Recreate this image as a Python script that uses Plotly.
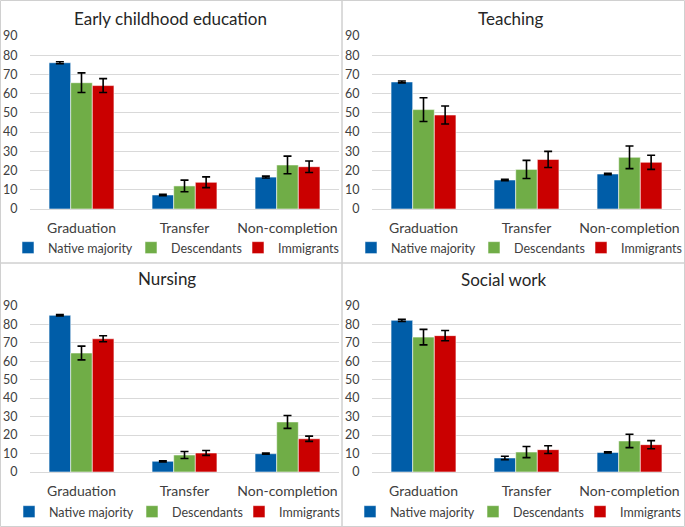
import plotly.graph_objects as go
from plotly.subplots import make_subplots

categories = ["Graduation", "Transfer", "Non-completion"]
groups = ["Native majority", "Descendants", "Immigrants"]
panel_titles = ["Early childhood education", "Teaching", "Nursing", "Social work"]
y_ticks = [0, 10, 20, 30, 40, 50, 60, 70, 80, 90]

ece_native = [76.1, 7.3, 16.6]
ece_native_err = [0.5, 0.4, 0.5]
ece_desc = [65.7, 12.0, 22.9]
ece_desc_err = [5.1, 3.0, 4.6]
ece_imm = [64.2, 13.9, 22.0]
ece_imm_err = [3.6, 2.8, 3.0]

teach_native = [66.1, 15.1, 18.2]
teach_native_err = [0.5, 0.4, 0.4]
teach_desc = [51.7, 20.6, 26.9]
teach_desc_err = [6.2, 4.7, 5.9]
teach_imm = [48.9, 25.8, 24.3]
teach_imm_err = [4.7, 4.2, 3.7]

nurs_native = [84.8, 5.8, 9.9]
nurs_native_err = [0.4, 0.3, 0.3]
nurs_desc = [64.4, 9.2, 27.1]
nurs_desc_err = [3.7, 1.9, 3.5]
nurs_imm = [72.1, 10.3, 18.0]
nurs_imm_err = [1.6, 1.3, 1.4]

sw_native = [82.1, 7.6, 10.6]
sw_native_err = [0.6, 0.9, 0.3]
sw_desc = [73.0, 10.8, 16.8]
sw_desc_err = [4.2, 3.0, 3.6]
sw_imm = [73.8, 12.1, 14.8]
sw_imm_err = [2.8, 2.1, 2.2]

colors = ["#005DA8", "#70AD47", "#CA0000"]
FONT = "Lato"
TXT = "#404040"
W, H = 685, 527
legend_item_widths = [78, 62, None]

panels = [
    ([ece_native, ece_desc, ece_imm], [ece_native_err, ece_desc_err, ece_imm_err]),
    ([teach_native, teach_desc, teach_imm], [teach_native_err, teach_desc_err, teach_imm_err]),
    ([nurs_native, nurs_desc, nurs_imm], [nurs_native_err, nurs_desc_err, nurs_imm_err]),
    ([sw_native, sw_desc, sw_imm], [sw_native_err, sw_desc_err, sw_imm_err]),
]

fig = make_subplots(rows=2, cols=2)
legend_names = ["legend", "legend2", "legend3", "legend4"]
for p, (vals, errs) in enumerate(panels):
    r, c = p // 2 + 1, p % 2 + 1
    for g in range(3):
        kw = {}
        if legend_item_widths[g]:
            kw["legendwidth"] = legend_item_widths[g]
        fig.add_trace(go.Bar(
            x=categories, y=vals[g], name=groups[g],
            marker=dict(color=colors[g], line=dict(color="rgba(255,255,255,0.55)", width=1)),
            error_y=dict(type="data", array=errs[g], color="black", thickness=1.6, width=4),
            legend=legend_names[p], **kw,
        ), row=r, col=c)

def px_x(v):
    return v / W

def px_y(v):
    return (H - v) / H

xdom_l = [px_x(30), px_x(339)]
xdom_r = [px_x(372), px_x(681)]
ydom_t = [px_y(209), px_y(36)]
ydom_b = [px_y(472), px_y(305.7)]
doms = [(xdom_l, ydom_t), (xdom_r, ydom_t), (xdom_l, ydom_b), (xdom_r, ydom_b)]

layout = dict(
    width=W, height=H, margin=dict(l=0, r=0, t=0, b=0, autoexpand=False),
    paper_bgcolor="white", plot_bgcolor="white",
    barmode="group", bargap=0.37, bargroupgap=0,
    font=dict(family=FONT, color=TXT),
)
for p, (xd, yd) in enumerate(doms):
    sfx = "" if p == 0 else str(p + 1)
    layout["xaxis" + sfx] = dict(
        domain=xd, showgrid=False, showline=False, zeroline=False,
        ticks="outside", ticklen=6, tickcolor="rgba(0,0,0,0)",
        tickfont=dict(size=14, family=FONT, color=TXT), automargin=False,
    )
    layout["yaxis" + sfx] = dict(
        domain=yd, range=[0, 90], tickvals=y_ticks,
        showgrid=True, gridcolor="#D9D9D9", gridwidth=1,
        zeroline=True, zerolinecolor="#D9D9D9", zerolinewidth=1,
        showline=False, ticks="outside", ticklen=9, tickcolor="rgba(0,0,0,0)",
        tickfont=dict(size=12.5, family=FONT, color=TXT), automargin=False,
    )

legend_pos = [(176, 248), (519, 248), (177, 512), (518, 512)]
for p, (lx, ly) in enumerate(legend_pos):
    layout[legend_names[p]] = dict(
        orientation="h", x=px_x(lx), y=px_y(ly), xanchor="center", yanchor="middle",
        font=dict(size=12.5, family=FONT, color=TXT), itemwidth=30,
        bgcolor="rgba(0,0,0,0)", tracegroupgap=0,
    )

fig.update_layout(**layout)

title_pos = [(170, 18), (511, 18), (167, 278), (504, 279)]
for t, (tx, ty) in zip(panel_titles, title_pos):
    fig.add_annotation(text=t, x=px_x(tx), y=px_y(ty), xref="paper", yref="paper",
                       xanchor="center", yanchor="middle", showarrow=False,
                       font=dict(size=17, family=FONT, color="#262626"))

rects = [(0.5, 0.5, 342, 263), (342, 0.5, 684.5, 263), (0.5, 263, 342, 526.5), (342, 263, 684.5, 526.5)]
for x0, y0, x1, y1 in rects:
    fig.add_shape(type="rect", xref="paper", yref="paper",
                  x0=px_x(x0), x1=px_x(x1), y0=px_y(y1), y1=px_y(y0),
                  line=dict(color="#D0D0D0", width=1), fillcolor="rgba(0,0,0,0)")

fig.write_html("out.html", config={"displayModeBar": False},
               post_script="document.body.style.margin='0';document.body.style.overflow='hidden';")
